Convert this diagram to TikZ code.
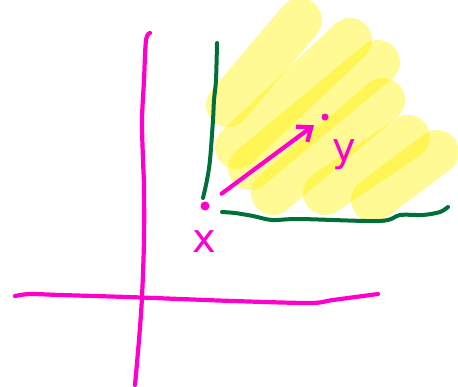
\documentclass[tikz,border=0pt]{standalone}
\usepackage{fontspec}
\usepackage{tikz}
\usetikzlibrary{arrows.meta,positioning}
\newfontfamily\handfont{DejaVu Sans}
\definecolor{penpink}{RGB}{255,0,204}
\definecolor{pengreen}{RGB}{0,112,56}

\begin{document}
\begin{tikzpicture}[x=1pt, y=-1pt, line cap=round, line join=round,
    pinkpen/.style={penpink, line width=4.2pt},
    greenpen/.style={pengreen, line width=4pt},
    marker/.style={yellow, opacity=0.42, line width=44pt},
    dot/.style={circle, fill=penpink, inner sep=0pt, minimum size=9pt},
    letter/.style={penpink, font=\handfont\fontsize{40}{40}\selectfont, inner sep=0pt}]
    \useasboundingbox (0,0) rectangle (458,386);

    % Highlighted region
    \draw[marker] (228,105) -- (300,20);
    \draw[marker] (237,147) -- (350,40);
    \draw[marker] (250,168) -- (378,62);
    \draw[marker] (273,193) -- (383,100);
    \draw[marker] (325,193) -- (408,137);
    \draw[marker] (373,200) -- (437,152);

    % Outer axes
    \draw[pinkpen] plot[smooth] coordinates {(150,33) (146,40) (144,80) (142,120) (143,160) (144,187) (144,240) (142,297) (139,340) (135,385)};
    \draw[pinkpen] plot[smooth] coordinates {(15,296) (30,294) (60,295) (127,297) (180,299) (233,301) (310,303) (333,300) (378,294)};

    % Inner axes
    \draw[greenpen] plot[smooth] coordinates {(217,43) (216,80) (214,100) (213,120) (210,160) (207,180) (203,198)};
    \draw[greenpen] plot[smooth] coordinates {(222,212) (235,213) (253,216) (272,220) (300,219) (380,221) (400,215) (423,215) (440,212) (448,207)};

    % Points and vector
    \node[dot] (px) at (205,206) {};
    \node[dot, minimum size=7pt] (py) at (325,117) {};
    \node[letter] (lx) at (204,242) {x};
    \node[letter] (ly) at (344,155) {y};
    \draw[pinkpen, -{Straight Barb[length=12pt, width=19pt]}, shorten <=16pt, shorten >=10pt] (px) -- (py);
\end{tikzpicture}
\end{document}
